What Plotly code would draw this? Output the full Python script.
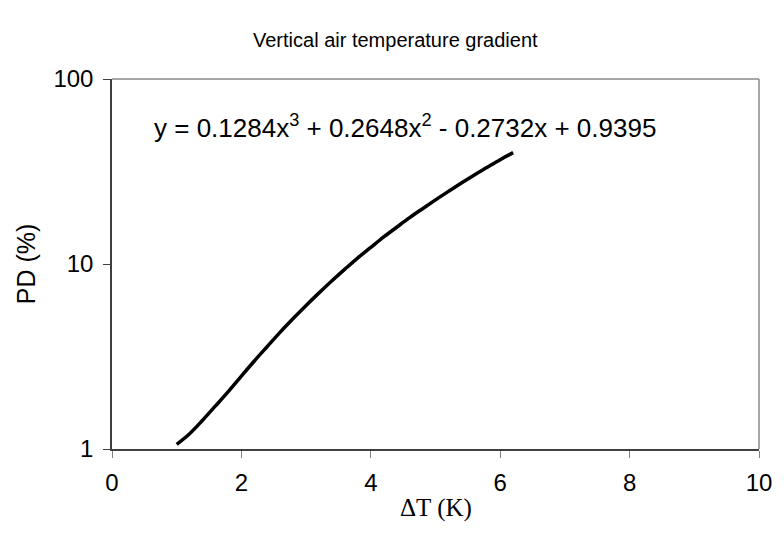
import plotly.graph_objects as go

# Data (ΔT in K, PD in %)
dT = [1.0, 1.2, 1.4, 1.6, 1.8, 2.0, 2.2, 2.4, 2.6, 2.8, 3.0, 3.2, 3.4, 3.6,
      3.8, 4.0, 4.2, 4.4, 4.6, 4.8, 5.0, 5.2, 5.4, 5.6, 5.8, 6.0, 6.2]
PD = [1.06, 1.21, 1.43, 1.71, 2.05, 2.48, 2.99, 3.58, 4.28, 5.07, 5.97, 6.98,
      8.12, 9.38, 10.8, 12.3, 14.0, 15.8, 17.8, 19.9, 22.2, 24.7, 27.4, 30.3,
      33.3, 36.6, 40.0]

x_ticks = [0, 2, 4, 6, 8, 10]
y_ticks = [1, 10, 100]
y_tick_text = ["1", "10", "100"]

title_text = "Vertical air temperature gradient"
equation_text = "y = 0.1284x<sup>3</sup> + 0.2648x<sup>2</sup> - 0.2732x + 0.9395"

W, H = 784, 550
L, R, T, B = 112, 16, 79, 101

fig = go.Figure()
fig.add_trace(go.Scatter(x=dT, y=PD, mode="lines",
                         line=dict(color="black", width=3.5),
                         line_shape="spline", showlegend=False))

font = "Liberation Sans, Arial, sans-serif"

fig.update_layout(
    width=W, height=H,
    margin=dict(l=L, r=R, t=T, b=B),
    paper_bgcolor="white", plot_bgcolor="white",
    font=dict(family=font, size=24, color="black"),
    showlegend=False,
    xaxis=dict(range=[0, 10], tickvals=x_ticks, ticks="outside", ticklen=7,
               tickcolor="#808080", showgrid=False, zeroline=False,
               showline=True, linecolor="#404040", linewidth=1.5,
               ticklabelstandoff=4,
               tickfont=dict(size=24, family=font, color="black"), fixedrange=True),
    yaxis=dict(type="log", range=[0, 2], tickvals=y_ticks, ticktext=y_tick_text,
               ticks="outside", ticklen=7, tickcolor="#404040",
               showgrid=False, zeroline=False,
               showline=True, linecolor="#404040", linewidth=1.5,
               ticklabelstandoff=5,
               tickfont=dict(size=24, family=font, color="black"), fixedrange=True),
    shapes=[
        dict(type="line", xref="paper", yref="paper", x0=0, x1=1, y0=1, y1=1,
             line=dict(color="#888888", width=1.5)),
        dict(type="line", xref="paper", yref="paper", x0=1, x1=1, y0=0, y1=1,
             line=dict(color="#888888", width=1.5)),
    ],
    annotations=[
        dict(text=title_text, xref="paper", yref="paper",
             x=(399 - L) / (W - L - R), y=1 + (T - 40) / (H - T - B),
             xanchor="center", yanchor="middle", showarrow=False,
             font=dict(size=20, family=font)),
        dict(text=equation_text, xref="paper", yref="paper",
             x=(153 - L) / (W - L - R), y=1 - (126 - T) / (H - T - B),
             xanchor="left", yanchor="middle", showarrow=False,
             font=dict(size=26, family=font)),
        dict(text="PD (%)", xref="paper", yref="paper",
             x=(25 - L) / (W - L - R), y=1 - (264 - T) / (H - T - B),
             xanchor="center", yanchor="middle", textangle=-90, showarrow=False,
             font=dict(size=25, family=font)),
        dict(text="ΔT (K)", xref="paper", yref="paper",
             x=0.5, y=-(508 - (H - B)) / (H - T - B),
             xanchor="center", yanchor="middle", showarrow=False,
             font=dict(size=25, family="Liberation Serif, Times New Roman, serif")),
    ],
)

fig.write_html("out.html")
